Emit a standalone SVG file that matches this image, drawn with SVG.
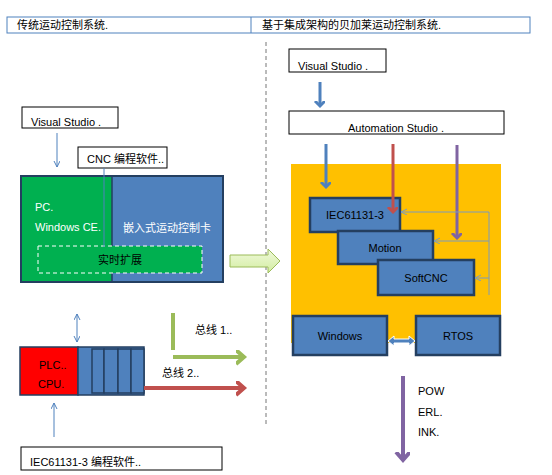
<svg xmlns="http://www.w3.org/2000/svg" width="552" height="475" viewBox="0 0 552 475">
<defs>
<style>
text{font-family:"Liberation Sans","Noto Sans CJK SC",Arial,sans-serif;font-size:11px;fill:#000}
.wt{fill:#fff}
.box{fill:#fff;stroke:#000;stroke-width:1}
.blk{fill:#4F81BD;stroke:#243F60;stroke-width:2.5}
.thin{stroke:#4F81BD;stroke-width:1;fill:none}
.fb{stroke:#7A9AC0;stroke-width:1;fill:none}
</style>
<marker id="sm" markerWidth="8" markerHeight="8" refX="6" refY="3" orient="auto" markerUnits="userSpaceOnUse"><path d="M0,0 L6,3 L0,6" fill="none" stroke="#4F81BD" stroke-width="1"/></marker>
<marker id="sm2" markerWidth="8" markerHeight="8" refX="6" refY="3" orient="auto-start-reverse" markerUnits="userSpaceOnUse"><path d="M0,0 L6,3 L0,6" fill="none" stroke="#4F81BD" stroke-width="1"/></marker>
<marker id="fbm" markerWidth="8" markerHeight="8" refX="6" refY="3" orient="auto" markerUnits="userSpaceOnUse"><path d="M0,0 L6,3 L0,6" fill="none" stroke="#7A9AC0" stroke-width="1"/></marker>
<marker id="bl" markerWidth="12" markerHeight="12" refX="5" refY="5" orient="auto" markerUnits="userSpaceOnUse"><path d="M0,0 L5,5 L0,10" fill="none" stroke="#4F81BD" stroke-width="3"/></marker>
<marker id="rd" markerWidth="12" markerHeight="12" refX="5" refY="5" orient="auto" markerUnits="userSpaceOnUse"><path d="M0,0 L5,5 L0,10" fill="none" stroke="#C0504D" stroke-width="3"/></marker>
<marker id="pp" markerWidth="12" markerHeight="12" refX="5" refY="5" orient="auto" markerUnits="userSpaceOnUse"><path d="M0,0 L5,5 L0,10" fill="none" stroke="#8064A2" stroke-width="3"/></marker>
<marker id="gb" markerWidth="16" markerHeight="16" refX="8" refY="7" orient="auto" markerUnits="userSpaceOnUse"><path d="M0,0 L8,7 L0,14" fill="none" stroke="#9BBB59" stroke-width="4"/></marker>
<marker id="rb" markerWidth="16" markerHeight="16" refX="8" refY="7" orient="auto" markerUnits="userSpaceOnUse"><path d="M0,0 L8,7 L0,14" fill="none" stroke="#C0504D" stroke-width="4"/></marker>
<marker id="pb" markerWidth="16" markerHeight="16" refX="8" refY="7" orient="auto" markerUnits="userSpaceOnUse"><path d="M0,0 L8,7 L0,14" fill="none" stroke="#8064A2" stroke-width="4"/></marker>
<linearGradient id="gg" x1="0" y1="0" x2="0" y2="1"><stop offset="0" stop-color="#F0F9DC"/><stop offset="1" stop-color="#D3EDA0"/></linearGradient>
</defs>

<g id="header">
<rect x="7" y="17" width="523" height="16" fill="#fff" stroke="#4F81BD" stroke-width="1"/>
<line x1="251" y1="17" x2="251" y2="33" stroke="#4F81BD" stroke-width="1"/>
<text x="17" y="29">传统运动控制系统.</text>
<text x="262" y="29">基于集成架构的贝加莱运动控制系统.</text>
</g>

<line id="divider" x1="266" y1="42" x2="266" y2="425" stroke="#777" stroke-width="1" stroke-dasharray="4,3"/>

<!-- Left side -->
<g id="vs-left">
<rect class="box" x="22" y="107" width="96" height="21"/>
<text x="31" y="126">Visual Studio .</text>
</g>
<g id="cnc-soft">
<rect class="box" x="78" y="147" width="89" height="21"/>
<text x="87" y="163">CNC 编程软件..</text>
</g>
<g id="pc-card">
<rect x="21" y="176" width="91" height="106" fill="#00B050"/>
<rect x="112" y="176" width="111" height="106" fill="#4F81BD"/>
<rect x="21" y="176" width="202" height="106" fill="none" stroke="#243F60" stroke-width="2"/>
<line x1="112" y1="176" x2="112" y2="282" stroke="#243F60" stroke-width="1.5"/>
<text class="wt" x="35" y="211">PC.</text>
<text class="wt" x="35" y="231">Windows CE.</text>
<text class="wt" x="123" y="232">嵌入式运动控制卡</text>
</g>
<g id="realtime">
<rect x="38" y="246" width="164" height="27" fill="#00B050" stroke="#fff" stroke-width="1" stroke-dasharray="4,3"/>
<text x="120" y="264" text-anchor="middle">实时扩展</text>
</g>
<g id="plc">
<rect x="20" y="347" width="58" height="48" fill="#FF0000" stroke="#243F60" stroke-width="1.5"/>
<text x="39" y="369">PLC..</text>
<text x="38" y="388">CPU.</text>
<rect x="78" y="347" width="66" height="48" fill="#4F81BD" stroke="#243F60" stroke-width="1.5"/>
<rect x="92" y="349" width="12" height="44" fill="#4F81BD" stroke="#243F60" stroke-width="1.5"/>
<rect x="104" y="349" width="14" height="44" fill="#4F81BD" stroke="#243F60" stroke-width="1.5"/>
<rect x="118" y="349" width="13" height="44" fill="#4F81BD" stroke="#243F60" stroke-width="1.5"/>
<rect x="131" y="349" width="13" height="44" fill="#4F81BD" stroke="#243F60" stroke-width="1.5"/>
</g>
<g id="iec-soft">
<rect class="box" x="21" y="447" width="201" height="23"/>
<text x="30" y="466">IEC61131-3 编程软件..</text>
</g>

<!-- Right side -->
<g id="vs-right">
<rect class="box" x="289" y="49" width="97" height="23"/>
<text x="298" y="70">Visual Studio .</text>
</g>
<g id="as">
<rect class="box" x="289" y="111" width="215" height="23"/>
<text x="396" y="132" text-anchor="middle">Automation Studio .</text>
</g>
<g id="runtime">
<rect x="291" y="164" width="210" height="179" fill="#FFC000"/>
</g>
<g id="iec">
<rect class="blk" x="310" y="198" width="90" height="34"/>
<text x="355" y="219" text-anchor="middle">IEC61131-3</text>
</g>
<g id="motion">
<rect class="blk" x="338" y="231" width="95" height="33"/>
<text x="385" y="252" text-anchor="middle">Motion</text>
</g>
<g id="softcnc">
<rect class="blk" x="378" y="260" width="96" height="35"/>
<text x="426" y="282" text-anchor="middle">SoftCNC</text>
</g>
<g id="windows">
<rect class="blk" x="293" y="316" width="94" height="39"/>
<text x="340" y="340" text-anchor="middle">Windows</text>
</g>
<g id="rtos">
<rect class="blk" x="416" y="316" width="84" height="39"/>
<text x="458" y="340" text-anchor="middle">RTOS</text>
</g>
<g id="out-labels">
<text x="418" y="395">POW</text>
<text x="418" y="416">ERL.</text>
<text x="418" y="436">INK.</text>
</g>

<g id="connectors">
<line class="thin" x1="57" y1="133" x2="57" y2="167" marker-end="url(#sm)"/>
<line class="thin" x1="104" y1="168" x2="104" y2="247"/>
<path d="M230,255 H268 V249 L280,261 L268,273 V267 H230 Z" fill="url(#gg)" stroke="#9BBB59" stroke-width="1"/>
<line class="thin" x1="77" y1="314" x2="77" y2="342" marker-start="url(#sm2)" marker-end="url(#sm)"/>
<line class="thin" x1="54" y1="437" x2="54" y2="403" marker-end="url(#sm)"/>
<line x1="173" y1="313" x2="173" y2="350" stroke="#9BBB59" stroke-width="4"/>
<line x1="173" y1="357" x2="244" y2="357" stroke="#9BBB59" stroke-width="4" marker-end="url(#gb)"/>
<text x="195" y="334">总线 1..</text>
<line x1="144" y1="388" x2="244" y2="388" stroke="#C0504D" stroke-width="4" marker-end="url(#rb)"/>
<text x="162" y="377">总线 2..</text>

<line x1="320" y1="82" x2="320" y2="106" stroke="#4F81BD" stroke-width="3" marker-end="url(#bl)"/>
<line x1="326" y1="144" x2="326" y2="187" stroke="#4F81BD" stroke-width="3" marker-end="url(#bl)"/>
<line x1="393" y1="144" x2="393" y2="212" stroke="#C0504D" stroke-width="3" marker-end="url(#rd)"/>
<line x1="457" y1="145" x2="457" y2="238" stroke="#8064A2" stroke-width="3" marker-end="url(#pp)"/>
<path class="fb" d="M489,295 V212"/>
<line class="fb" x1="489" y1="212" x2="401" y2="212" marker-end="url(#fbm)"/>
<line class="fb" x1="489" y1="241" x2="434" y2="241" marker-end="url(#fbm)"/>
<line class="fb" x1="489" y1="278" x2="475" y2="278" marker-end="url(#fbm)"/>
<path d="M388,341 L394,336 V339 H409 V336 L415,341 L409,346 V343 H394 V346 Z" fill="#4F81BD" stroke="#fff" stroke-width="1"/>
<line x1="403" y1="376" x2="403" y2="460" stroke="#8064A2" stroke-width="4" marker-end="url(#pb)"/>
</g>
</svg>
